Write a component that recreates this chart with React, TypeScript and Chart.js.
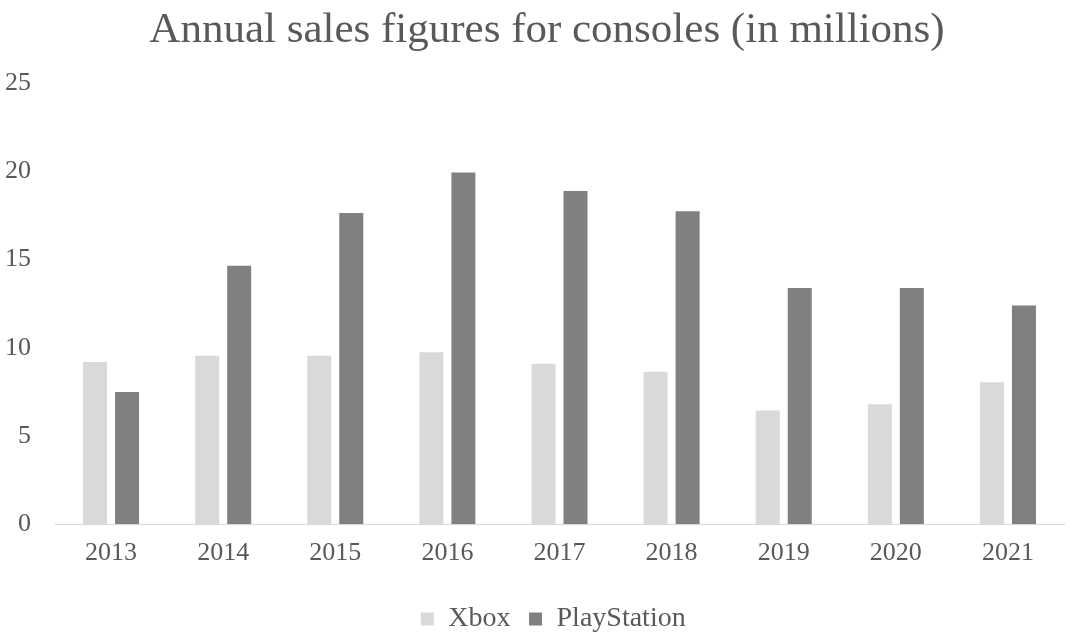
import React, { useEffect, useRef } from "react";
import { Chart, registerables } from "chart.js";

Chart.register(...registerables);

const years = ["2013", "2014", "2015", "2016", "2017", "2018", "2019", "2020", "2021"];
const xboxSales = [9.25, 9.6, 9.6, 9.8, 9.15, 8.7, 6.5, 6.85, 8.1];
const playstationSales = [7.55, 14.7, 17.7, 20.0, 18.95, 17.8, 13.45, 13.45, 12.45];
const yTicks = [0, 5, 10, 15, 20, 25];

const FONT = "'Liberation Serif', 'Times New Roman', serif";
const TEXT = "#595959";

const shiftBoxes = {
  id: "shiftBoxes",
  afterLayout(chart: any) {
    const t = chart.titleBlock;
    if (t) {
      t.left += 15;
      t.right += 15;
    }
    const l = chart.legend;
    if (l) {
      l.left += 21;
      l.right += 21;
    }
  },
};

export default function App() {
  const ref = useRef<HTMLCanvasElement | null>(null);

  useEffect(() => {
    document.body.style.margin = "0";
    const canvas = ref.current;
    if (!canvas) return;
    const chart = new Chart(canvas, {
      type: "bar",
      data: {
        labels: years,
        datasets: [
          {
            label: "Xbox",
            data: xboxSales,
            backgroundColor: "#d9d9d9",
            borderColor: "#ffffff",
            borderWidth: 1,
          },
          {
            label: "PlayStation",
            data: playstationSales,
            backgroundColor: "#808080",
            borderColor: "#ffffff",
            borderWidth: 1,
          },
        ],
      },
      plugins: [shiftBoxes],
      options: {
        animation: false,
        responsive: false,
        maintainAspectRatio: false,
        layout: { padding: { left: 0, right: 15, top: 0, bottom: -11 } },
        datasets: {
          bar: { categoryPercentage: 0.571, barPercentage: 0.8125 },
        },
        plugins: {
          title: {
            display: true,
            text: "Annual sales figures for consoles (in millions)",
            color: TEXT,
            font: { family: FONT, size: 43, weight: "normal", lineHeight: 1.1 },
            padding: { top: 7, bottom: 29 },
          },
          legend: {
            display: true,
            position: "bottom",
            labels: {
              color: TEXT,
              font: { family: FONT, size: 28 },
              boxWidth: 14,
              boxHeight: 14,
              padding: 18,
            },
          },
          tooltip: { enabled: false },
        },
        scales: {
          x: {
            grid: { display: false, drawTicks: false },
            border: { display: true, color: "#d9d9d9", width: 1 },
            ticks: {
              color: TEXT,
              font: { family: FONT, size: 26 },
              padding: 14,
              maxRotation: 0,
            },
            afterFit: (axis: any) => {
              axis.height = 63;
            },
          },
          y: {
            min: 0,
            max: 25,
            afterBuildTicks: (axis: any) => {
              axis.ticks = yTicks.map((v) => ({ value: v }));
            },
            afterFit: (axis: any) => {
              axis.width = 55;
            },
            grid: { display: false, drawTicks: false },
            border: { display: false },
            ticks: {
              color: TEXT,
              font: { family: FONT, size: 26 },
              padding: 24,
            },
          },
        },
      },
    });
    return () => chart.destroy();
  }, []);

  return (
    <div style={{ width: 1079, height: 632 }}>
      <canvas ref={ref} width={1079} height={632} style={{ display: "block" }} />
    </div>
  );
}
